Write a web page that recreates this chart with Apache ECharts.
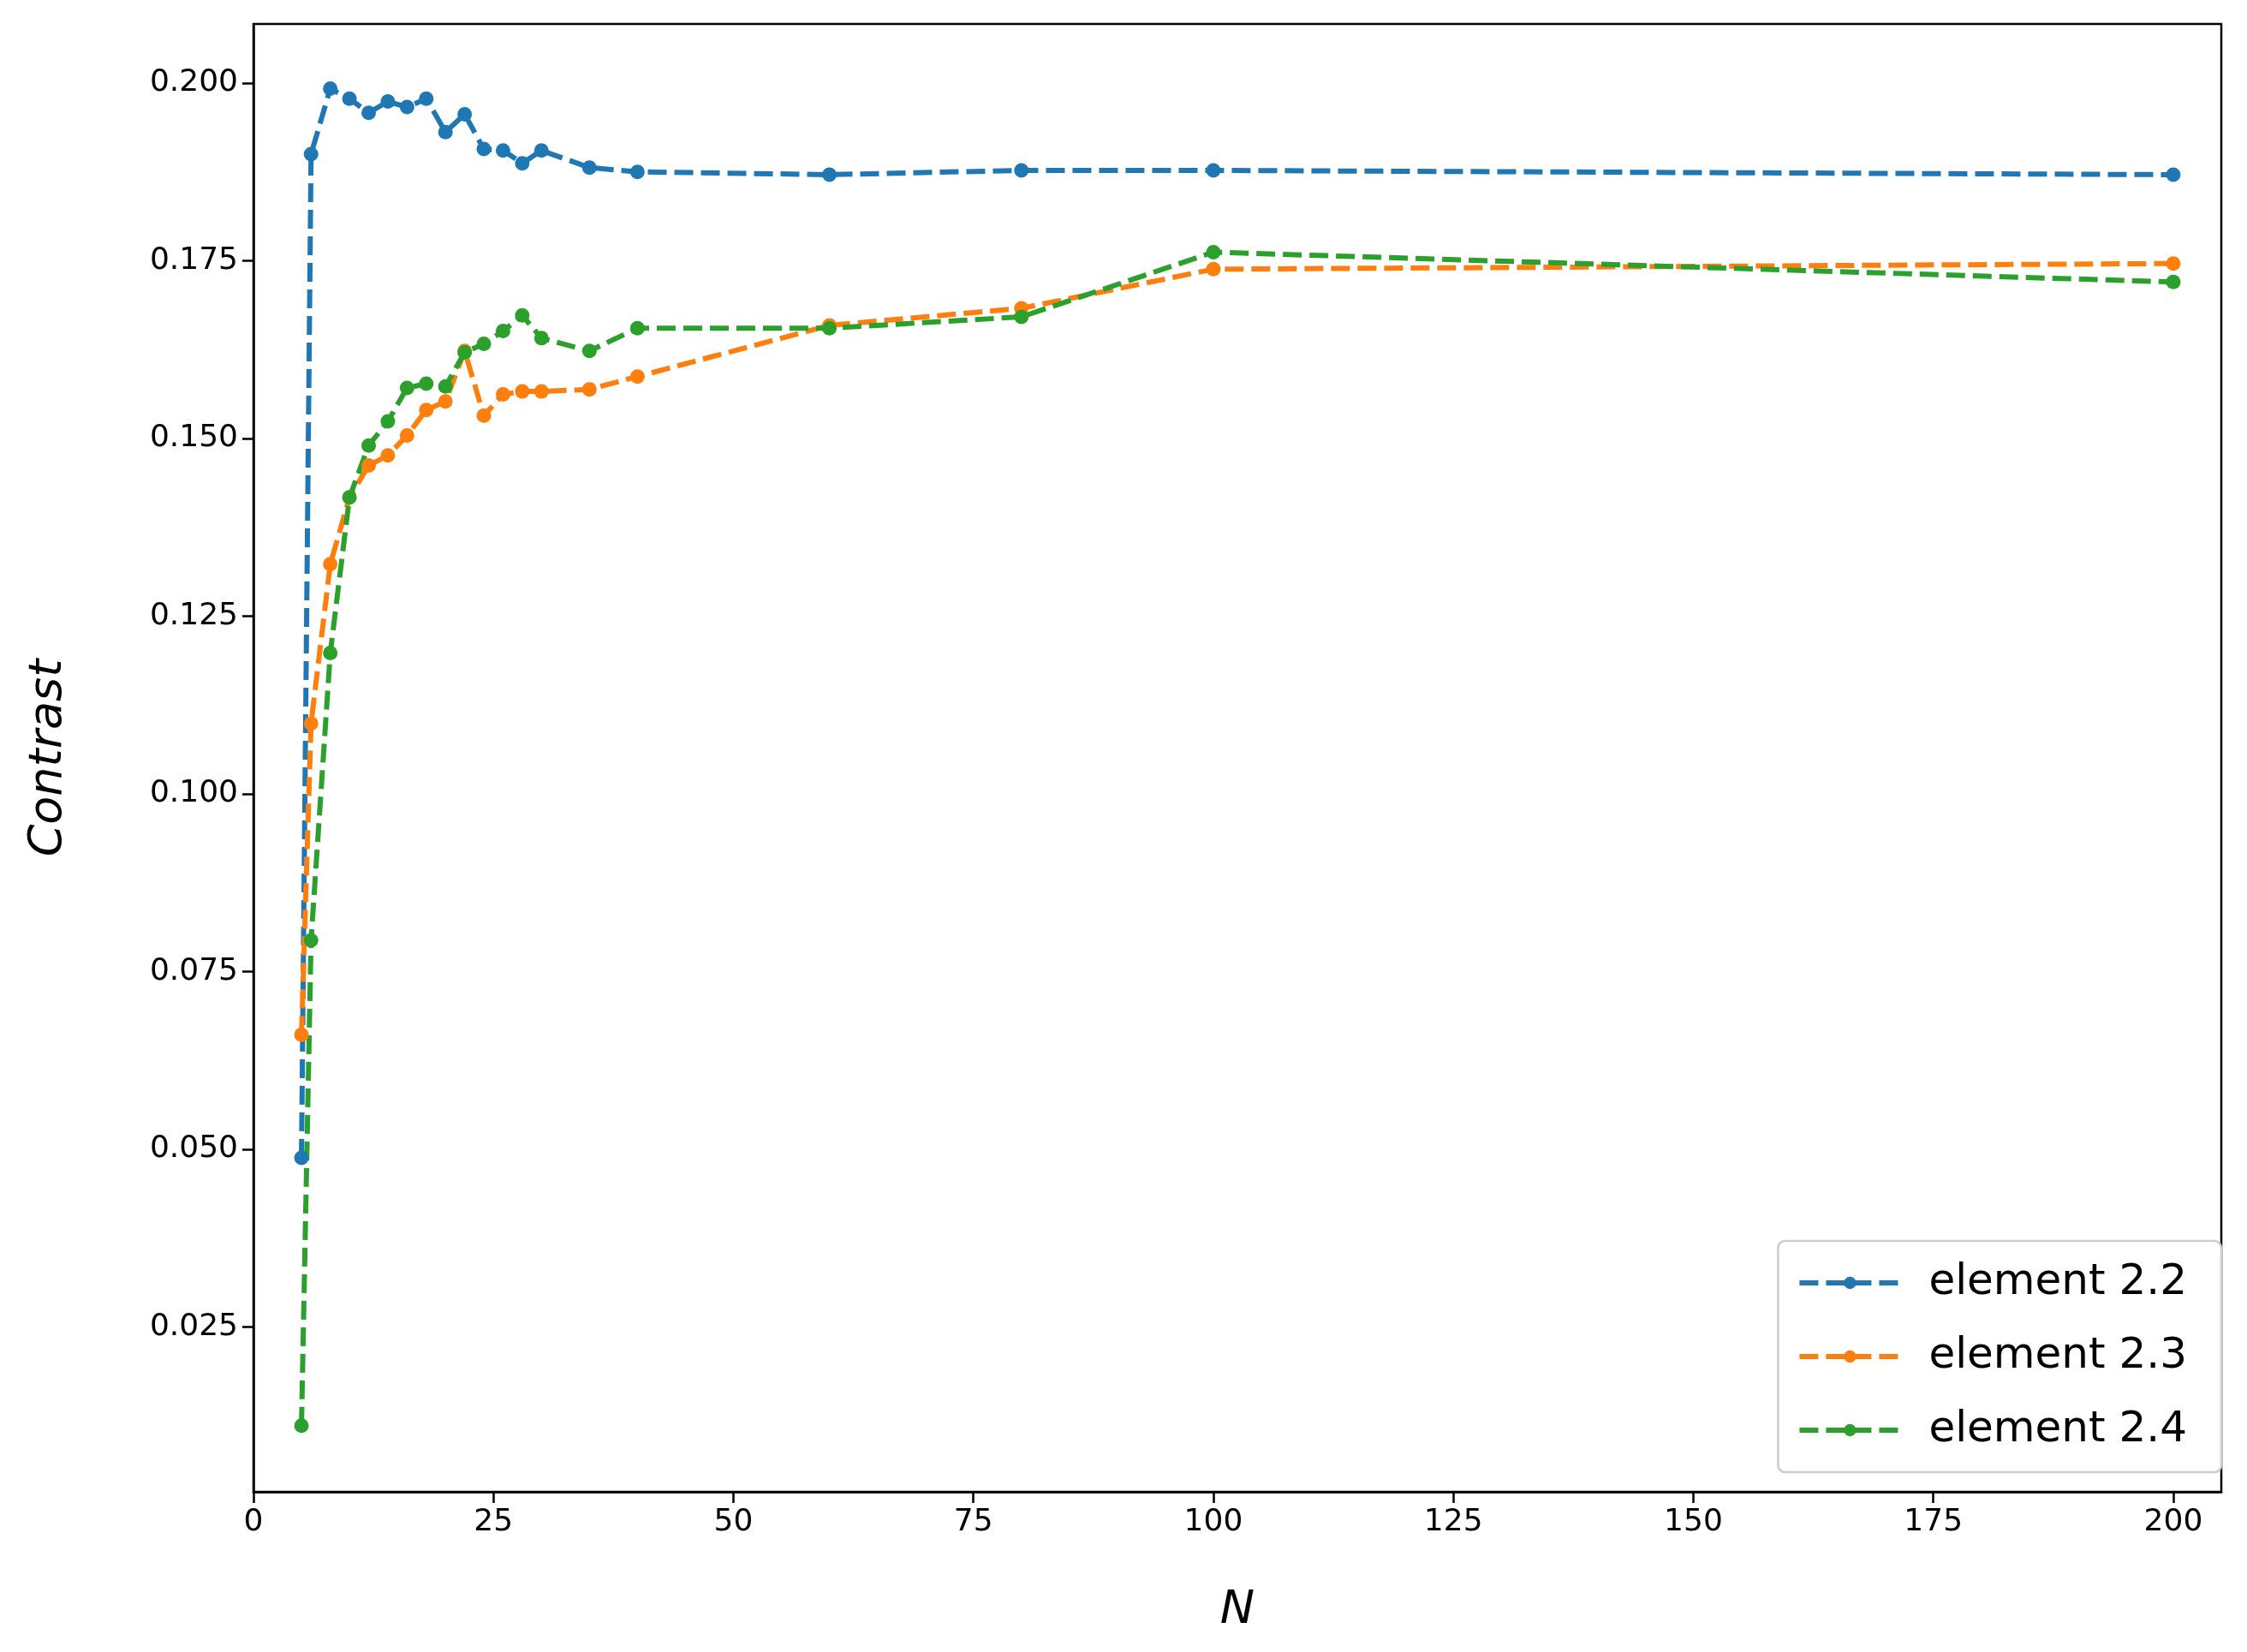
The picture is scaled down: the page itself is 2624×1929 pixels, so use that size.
<!DOCTYPE html>
<html>
<head>
<meta charset="utf-8">
<script src="https://cdn.jsdelivr.net/npm/echarts@6/dist/echarts.min.js"></script>
<style>
  html, body { margin: 0; padding: 0; background: #fff; }
  #chart { width: 2624px; height: 1929px; }
</style>
</head>
<body>
<div id="chart"></div>
<script>
// sample sizes N
var nValues = [5, 6, 8, 10, 12, 14, 16, 18, 20, 22, 24, 26, 28, 30, 35, 40, 60, 80, 100, 200];

var element22 = [0.0488, 0.1900, 0.1992, 0.1978, 0.1958, 0.1974, 0.1966, 0.1978, 0.1931, 0.1956,
                 0.1907, 0.1905, 0.1887, 0.1905, 0.1881, 0.1875, 0.1871, 0.1877, 0.1877, 0.1871];
var element23 = [0.0661, 0.1099, 0.1323, 0.1417, 0.1462, 0.1476, 0.1504, 0.1540, 0.1552, 0.1623,
                 0.1532, 0.1562, 0.1566, 0.1566, 0.1569, 0.1587, 0.1659, 0.1683, 0.1738, 0.1746];
var element24 = [0.0111, 0.0794, 0.1198, 0.1417, 0.1490, 0.1524, 0.1571, 0.1577, 0.1573, 0.1621,
                 0.1633, 0.1651, 0.1673, 0.1641, 0.1623, 0.1655, 0.1655, 0.1671, 0.1762, 0.1720];

var yTicks = [0.025, 0.05, 0.075, 0.1, 0.125, 0.15, 0.175, 0.2];

function pairs(ys) {
  return nValues.map(function (n, i) { return [n, ys[i]]; });
}

function makeSeries(name, ys, color) {
  return {
    name: name,
    type: 'line',
    data: pairs(ys),
    symbol: 'circle',
    symbolSize: 17,
    itemStyle: { color: color },
    lineStyle: { color: color, width: 6, type: [22, 9] },
    emphasis: { disabled: true }
  };
}

var myChart = echarts.init(document.getElementById('chart'));

var option = {
  animation: false,
  textStyle: { fontFamily: 'DejaVu Sans' },
  grid: {
    left: 296, right: 30, top: 28, bottom: 187,
    show: true, borderColor: '#000', borderWidth: 2.5, backgroundColor: 'transparent'
  },
  legend: {
    right: 30, bottom: 210,
    orient: 'vertical',
    itemWidth: 118, itemHeight: 18, itemGap: 36,
    padding: [24, 40, 24, 22],
    borderColor: '#ccc', borderWidth: 2.5, borderRadius: 8,
    backgroundColor: '#fff',
    lineStyle: { width: 6 },
    textStyle: { fontSize: 50, color: '#000', padding: [0, 0, 0, 28] },
    data: ['element 2.2', 'element 2.3', 'element 2.4']
  },
  xAxis: {
    type: 'value',
    min: 0, max: 205, interval: 25,
    name: 'N', nameLocation: 'middle', nameGap: 112,
    nameTextStyle: { fontSize: 54, fontStyle: 'italic', color: '#000' },
    splitLine: { show: false },
    axisLine: { lineStyle: { color: '#000', width: 2.5 } },
    axisTick: { show: true, length: 13, lineStyle: { color: '#000', width: 2.5 } },
    axisLabel: { fontSize: 36, color: '#000', margin: 18, showMaxLabel: false }
  },
  yAxis: {
    type: 'value',
    min: 0.0018, max: 0.2083,
    name: 'Contrast', nameLocation: 'middle', nameGap: 212,
    nameTextStyle: { fontSize: 54, fontStyle: 'italic', color: '#000' },
    splitLine: { show: false },
    axisLine: { lineStyle: { color: '#000', width: 2.5 } },
    axisTick: { show: true, length: 13, lineStyle: { color: '#000', width: 2.5 }, customValues: yTicks },
    axisLabel: {
      fontSize: 36, color: '#000', margin: 18, customValues: yTicks,
      formatter: function (v) { return v.toFixed(3); }
    }
  },
  series: [
    makeSeries('element 2.2', element22, '#1f77b4'),
    makeSeries('element 2.3', element23, '#ff7f0e'),
    makeSeries('element 2.4', element24, '#2ca02c')
  ]
};

myChart.setOption(option);
</script>
</body>
</html>
